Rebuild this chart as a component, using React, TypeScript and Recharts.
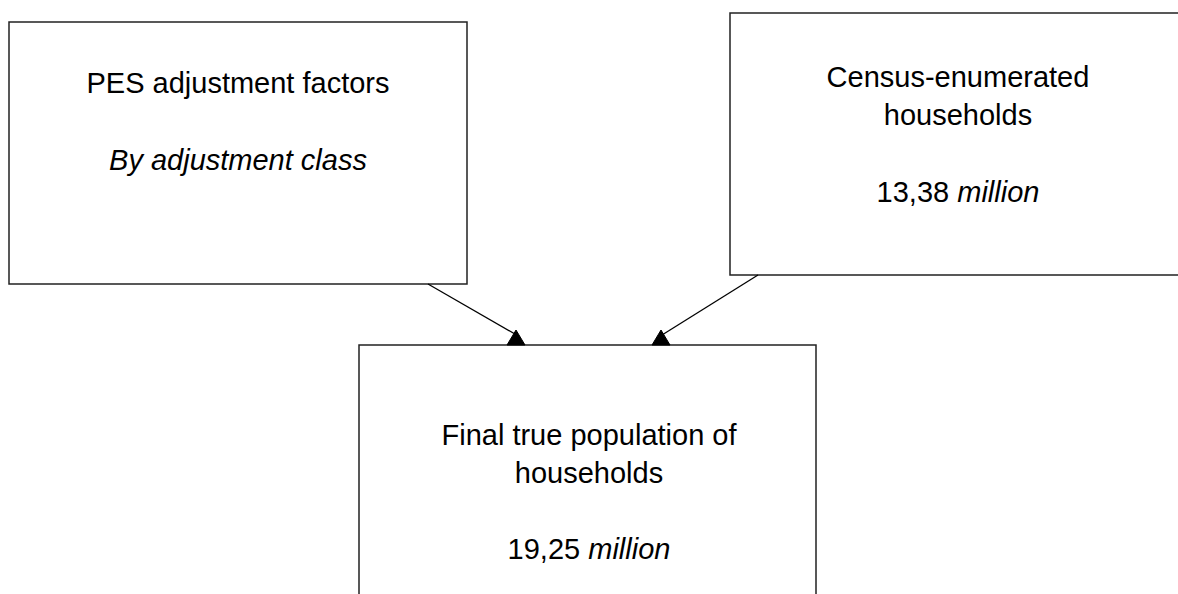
import React from 'react';
import { ComposedChart, XAxis, YAxis, Scatter, ReferenceArea, ReferenceLine } from 'recharts';

// diagram drawn in a 1178 x 594 coordinate space (y grows downward)
const boxes = [
  { id: 'pes', x1: 9, x2: 467, y1: 22, y2: 284 },
  { id: 'census', x1: 730, x2: 1187, y1: 13, y2: 275 },
  { id: 'final', x1: 359, x2: 816, y1: 345, y2: 607 },
];

const arrows = [
  { from: { x: 428, y: 284 }, to: { x: 515, y: 334 } },
  { from: { x: 758, y: 275 }, to: { x: 662, y: 335 } },
];

const arrowTips = [
  { x: 516, y: 330 },
  { x: 661, y: 330 },
];

const labels = [
  { x: 238, y: 93, text: 'PES adjustment factors', em: '' },
  { x: 238, y: 170, text: '', em: 'By adjustment class' },
  { x: 958, y: 87, text: 'Census-enumerated', em: '' },
  { x: 958, y: 125, text: 'households', em: '' },
  { x: 958, y: 202, text: '13,38 ', em: 'million' },
  { x: 589, y: 445, text: 'Final true population of', em: '' },
  { x: 589, y: 483, text: 'households', em: '' },
  { x: 589, y: 559, text: '19,25 ', em: 'million' },
];

const FONT = '"Liberation Sans", Arial, Helvetica, sans-serif';

const LabelShape = (props: any) => {
  const { cx, cy, payload } = props;
  return (
    <text x={cx} y={cy} textAnchor="middle" fontFamily={FONT} fontSize={29} fill="#000">
      {payload.text && <tspan>{payload.text}</tspan>}
      {payload.em && <tspan fontStyle="italic">{payload.em}</tspan>}
    </text>
  );
};

// filled triangle sitting on the top edge of the target box
const ArrowHead = (props: any) => {
  const { cx, cy } = props;
  const d = `M${cx},${cy}L${cx - 9},${cy + 15}L${cx + 9},${cy + 15}Z`;
  return <path d={d} fill="#000" stroke="#000" strokeWidth={1} />;
};

export default function App() {
  return (
    <div style={{ position: 'absolute', left: 0, top: 0, width: 1178, height: 594, background: '#fff' }}>
      <ComposedChart width={1178} height={594} margin={{ top: 0, right: 0, bottom: 0, left: 0 }}>
        <XAxis type="number" dataKey="x" domain={[0, 1178]} allowDataOverflow hide />
        <YAxis type="number" dataKey="y" domain={[0, 594]} allowDataOverflow reversed hide />
        {boxes.map((b) => (
          <ReferenceArea
            key={b.id}
            x1={b.x1}
            x2={b.x2}
            y1={b.y1}
            y2={b.y2}
            fill="none"
            fillOpacity={0}
            stroke="#222"
            strokeWidth={1.5}
            ifOverflow="hidden"
          />
        ))}
        {arrows.map((a, i) => (
          <ReferenceLine
            key={i}
            segment={[a.from, a.to]}
            stroke="#000"
            strokeWidth={1.3}
            ifOverflow="visible"
          />
        ))}
        <Scatter data={arrowTips} shape={ArrowHead} isAnimationActive={false} />
        <Scatter data={labels} shape={LabelShape} isAnimationActive={false} />
      </ComposedChart>
    </div>
  );
}
